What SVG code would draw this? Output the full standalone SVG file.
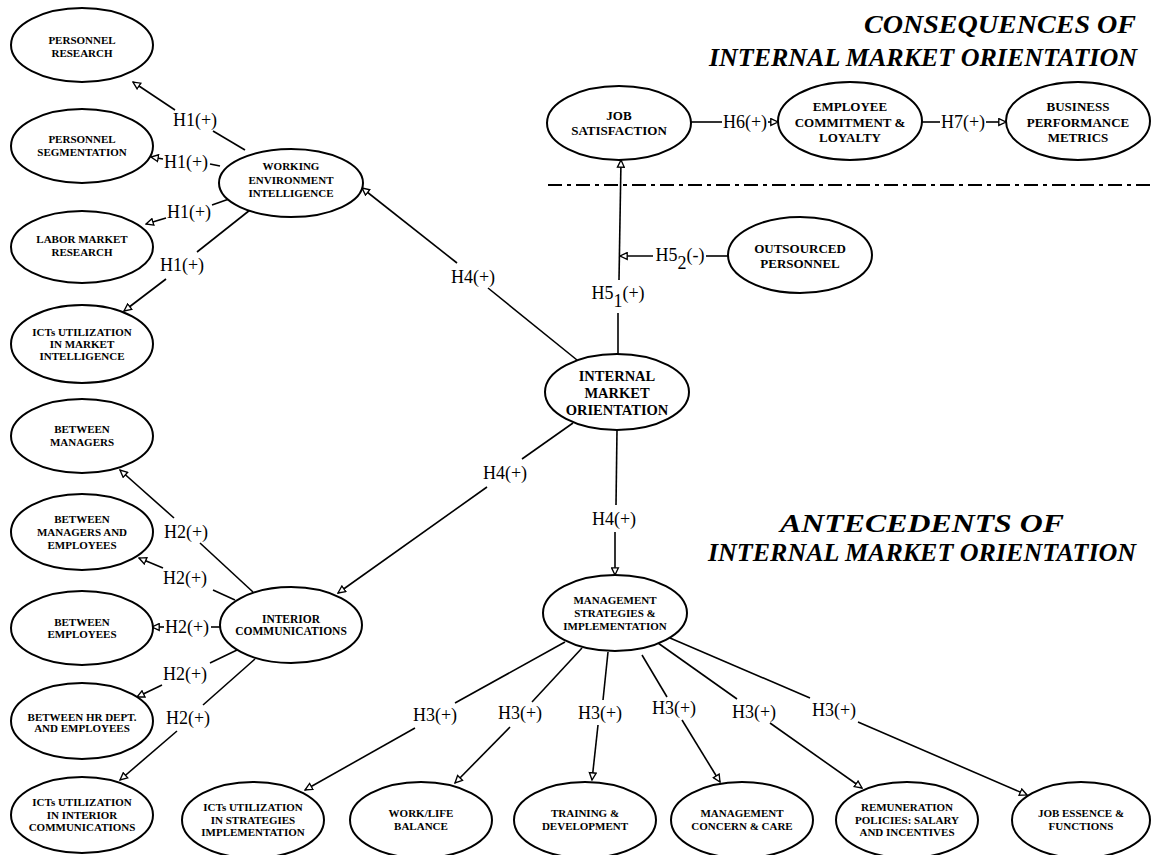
<svg xmlns="http://www.w3.org/2000/svg" width="1151" height="855" viewBox="0 0 1151 855">
  <style>
    .node ellipse { fill: #fff; stroke: #000; stroke-width: 2; }
    .node text { font-family: "Liberation Serif", "Times New Roman", serif; font-weight: bold; font-size: 11px; text-anchor: middle; fill: #000; }
    .node.mid text { font-size: 13px; }
    .node.big text { font-size: 14.5px; }
    .edge line { stroke: #000; stroke-width: 1.6; fill: none; }
    .lbl { font-family: "Liberation Serif", "Times New Roman", serif; font-size: 18px; text-anchor: middle; fill: #000; }
    .title { font-family: "Liberation Serif", "Times New Roman", serif; font-size: 26px; font-weight: bold; font-style: italic; fill: #000; }
    .divider { stroke: #000; stroke-width: 2; stroke-dasharray: 14 5 4 5; }
  </style>
  <defs>
    <marker id="tri" viewBox="0 0 10 10" refX="9" refY="5" markerWidth="9" markerHeight="9" markerUnits="userSpaceOnUse" orient="auto">
      <path d="M1,1.2 L9,5 L1,8.8 Z" fill="#fff" stroke="#000" stroke-width="1.5"/>
    </marker>
  </defs>
  <rect width="1151" height="855" fill="#fff"/>

  <!-- section titles -->
  <text class="title" x="1136" y="33" text-anchor="end" textLength="272" lengthAdjust="spacingAndGlyphs">CONSEQUENCES OF</text>
  <text class="title" x="1137" y="66" text-anchor="end">INTERNAL MARKET ORIENTATION</text>
  <text class="title" x="922" y="532" text-anchor="middle" textLength="284" lengthAdjust="spacingAndGlyphs">ANTECEDENTS OF</text>
  <text class="title" x="922" y="561" text-anchor="middle">INTERNAL MARKET ORIENTATION</text>
  <line class="divider" x1="548" y1="185" x2="1151" y2="185"/>

  <!-- connectors -->
  <g id="connectors" class="edge">
    <!-- H1 -->
    <line x1="245" y1="150" x2="213" y2="131"/>
    <line x1="175" y1="110" x2="133" y2="82" marker-end="url(#tri)"/>
    <line x1="220" y1="166" x2="210" y2="164"/>
    <line x1="163" y1="159" x2="151" y2="157" marker-end="url(#tri)"/>
    <line x1="229" y1="199" x2="212" y2="205"/>
    <line x1="166" y1="218" x2="146" y2="224" marker-end="url(#tri)"/>
    <line x1="250" y1="210" x2="197" y2="252"/>
    <line x1="166" y1="279" x2="124" y2="311" marker-end="url(#tri)"/>
    <!-- H2 -->
    <line x1="253" y1="592" x2="200" y2="543"/>
    <line x1="174" y1="518" x2="120" y2="470" marker-end="url(#tri)"/>
    <line x1="235" y1="600" x2="213" y2="590"/>
    <line x1="163" y1="568" x2="139" y2="558" marker-end="url(#tri)"/>
    <line x1="220" y1="627" x2="211" y2="627"/>
    <line x1="164" y1="627" x2="152" y2="627" marker-end="url(#tri)"/>
    <line x1="237" y1="650" x2="210" y2="663"/>
    <line x1="162" y1="685" x2="137" y2="697" marker-end="url(#tri)"/>
    <line x1="255" y1="659" x2="203" y2="705"/>
    <line x1="177" y1="731" x2="120" y2="780" marker-end="url(#tri)"/>
    <!-- H4 -->
    <line x1="577" y1="360" x2="488" y2="288"/>
    <line x1="457" y1="263" x2="362" y2="188" marker-end="url(#tri)"/>
    <line x1="573" y1="423" x2="522" y2="459"/>
    <line x1="487" y1="487" x2="338" y2="593" marker-end="url(#tri)"/>
    <line x1="617" y1="430" x2="616" y2="505"/>
    <line x1="615" y1="532" x2="615" y2="575" marker-end="url(#tri)"/>
    <!-- H5 -->
    <line x1="618" y1="354" x2="618" y2="313"/>
    <line x1="619" y1="280" x2="621" y2="160" marker-end="url(#tri)"/>
    <line x1="728" y1="256" x2="706" y2="256"/>
    <line x1="653" y1="256" x2="620" y2="256" marker-end="url(#tri)"/>
    <!-- H6 / H7 -->
    <line x1="691" y1="122" x2="722" y2="122"/>
    <line x1="768" y1="122" x2="778" y2="122" marker-end="url(#tri)"/>
    <line x1="922" y1="122" x2="940" y2="122"/>
    <line x1="986" y1="122" x2="1006" y2="122" marker-end="url(#tri)"/>
    <!-- H3 -->
    <line x1="565" y1="642" x2="455" y2="703"/>
    <line x1="415" y1="728" x2="305" y2="790" marker-end="url(#tri)"/>
    <line x1="582" y1="648" x2="532" y2="702"/>
    <line x1="510" y1="727" x2="455" y2="783" marker-end="url(#tri)"/>
    <line x1="608" y1="652" x2="603" y2="700"/>
    <line x1="598" y1="725" x2="592" y2="780" marker-end="url(#tri)"/>
    <line x1="642" y1="655" x2="667" y2="697"/>
    <line x1="682" y1="720" x2="720" y2="782" marker-end="url(#tri)"/>
    <line x1="658" y1="643" x2="737" y2="699"/>
    <line x1="770" y1="723" x2="862" y2="788" marker-end="url(#tri)"/>
    <line x1="670" y1="638" x2="810" y2="698"/>
    <line x1="858" y1="722" x2="1027" y2="795" marker-end="url(#tri)"/>

    <!-- hypothesis labels -->
    <text class="lbl" x="195" y="126">H1(+)</text>
    <text class="lbl" x="186" y="168">H1(+)</text>
    <text class="lbl" x="189" y="218">H1(+)</text>
    <text class="lbl" x="182" y="271">H1(+)</text>
    <text class="lbl" x="186" y="538">H2(+)</text>
    <text class="lbl" x="185" y="584">H2(+)</text>
    <text class="lbl" x="187" y="633">H2(+)</text>
    <text class="lbl" x="185" y="680">H2(+)</text>
    <text class="lbl" x="188" y="724">H2(+)</text>
    <text class="lbl" x="473" y="283">H4(+)</text>
    <text class="lbl" x="505" y="479">H4(+)</text>
    <text class="lbl" x="614" y="525">H4(+)</text>
    <text class="lbl" x="618" y="299">H5<tspan dy="8">1</tspan><tspan dy="-8">(+)</tspan></text>
    <text class="lbl" x="680" y="261">H5<tspan dy="8">2</tspan><tspan dy="-8">(-)</tspan></text>
    <text class="lbl" x="745" y="128">H6(+)</text>
    <text class="lbl" x="963" y="128">H7(+)</text>
    <text class="lbl" x="435" y="721">H3(+)</text>
    <text class="lbl" x="520" y="719">H3(+)</text>
    <text class="lbl" x="600" y="719">H3(+)</text>
    <text class="lbl" x="674" y="714">H3(+)</text>
    <text class="lbl" x="754" y="718">H3(+)</text>
    <text class="lbl" x="834" y="716">H3(+)</text>
  </g>

  <!-- working environment intelligence cluster -->
  <g id="n_personnel_research" class="node">
    <ellipse cx="82" cy="45" rx="71" ry="37"/>
    <text x="82" y="44">PERSONNEL</text>
    <text x="82" y="57">RESEARCH</text>
  </g>
  <g id="n_personnel_segmentation" class="node">
    <ellipse cx="82" cy="146" rx="71" ry="37"/>
    <text x="82" y="143">PERSONNEL</text>
    <text x="82" y="156">SEGMENTATION</text>
  </g>
  <g id="n_labor_market_research" class="node">
    <ellipse cx="82" cy="247" rx="71" ry="36"/>
    <text x="82" y="243">LABOR MARKET</text>
    <text x="82" y="256">RESEARCH</text>
  </g>
  <g id="n_icts_market_intelligence" class="node">
    <ellipse cx="82" cy="344" rx="71" ry="39"/>
    <text x="82" y="336">ICTs UTILIZATION</text>
    <text x="82" y="348">IN MARKET</text>
    <text x="82" y="360">INTELLIGENCE</text>
  </g>
  <g id="n_working_environment" class="node">
    <ellipse cx="291" cy="183" rx="72" ry="34"/>
    <text x="291" y="170">WORKING</text>
    <text x="291" y="184">ENVIRONMENT</text>
    <text x="291" y="197">INTELLIGENCE</text>
  </g>

  <!-- interior communications cluster -->
  <g id="n_between_managers" class="node">
    <ellipse cx="82" cy="436" rx="71" ry="37"/>
    <text x="82" y="433">BETWEEN</text>
    <text x="82" y="446">MANAGERS</text>
  </g>
  <g id="n_between_managers_employees" class="node">
    <ellipse cx="82" cy="532" rx="71" ry="38"/>
    <text x="82" y="523">BETWEEN</text>
    <text x="82" y="536">MANAGERS AND</text>
    <text x="82" y="549">EMPLOYEES</text>
  </g>
  <g id="n_between_employees" class="node">
    <ellipse cx="82" cy="628" rx="71" ry="37"/>
    <text x="82" y="626">BETWEEN</text>
    <text x="82" y="638">EMPLOYEES</text>
  </g>
  <g id="n_between_hr_employees" class="node">
    <ellipse cx="82" cy="721" rx="71" ry="38"/>
    <text x="82" y="721">BETWEEN HR DEPT.</text>
    <text x="82" y="732">AND EMPLOYEES</text>
  </g>
  <g id="n_icts_interior" class="node">
    <ellipse cx="82" cy="815" rx="71" ry="38"/>
    <text x="82" y="806">ICTs UTILIZATION</text>
    <text x="82" y="819">IN INTERIOR</text>
    <text x="82" y="831">COMMUNICATIONS</text>
  </g>
  <g id="n_interior_communications" class="node">
    <ellipse cx="291" cy="625" rx="71" ry="38"/>
    <text x="291" y="623" style="font-size:11.5px">INTERIOR</text>
    <text x="291" y="635" style="font-size:11.5px">COMMUNICATIONS</text>
  </g>

  <!-- core construct -->
  <g id="n_internal_market_orientation" class="node big">
    <ellipse cx="617" cy="392" rx="72" ry="38"/>
    <text x="617" y="381">INTERNAL</text>
    <text x="617" y="398">MARKET</text>
    <text x="617" y="415">ORIENTATION</text>
  </g>

  <!-- consequences -->
  <g id="n_job_satisfaction" class="node mid">
    <ellipse cx="619" cy="123" rx="72" ry="37"/>
    <text x="619" y="119.5">JOB</text>
    <text x="619" y="134.5">SATISFACTION</text>
  </g>
  <g id="n_employee_commitment" class="node mid">
    <ellipse cx="850" cy="121" rx="72" ry="39"/>
    <text x="850" y="110.5">EMPLOYEE</text>
    <text x="850" y="126.5">COMMITMENT &amp;</text>
    <text x="850" y="141.5">LOYALTY</text>
  </g>
  <g id="n_business_performance" class="node mid">
    <ellipse cx="1078" cy="121" rx="72" ry="39"/>
    <text x="1078" y="110.5">BUSINESS</text>
    <text x="1078" y="126.5">PERFORMANCE</text>
    <text x="1078" y="141.5">METRICS</text>
  </g>
  <g id="n_outsourced_personnel" class="node mid">
    <ellipse cx="800" cy="255" rx="72" ry="38"/>
    <text x="800" y="252.5">OUTSOURCED</text>
    <text x="800" y="267.5">PERSONNEL</text>
  </g>

  <!-- management strategies cluster -->
  <g id="n_management_strategies" class="node">
    <ellipse cx="615" cy="613" rx="72" ry="38"/>
    <text x="615" y="604">MANAGEMENT</text>
    <text x="615" y="617">STRATEGIES &amp;</text>
    <text x="615" y="630">IMPLEMENTATION</text>
  </g>
  <g id="n_icts_strategies" class="node">
    <ellipse cx="253" cy="820" rx="71" ry="38"/>
    <text x="253" y="811">ICTs UTILIZATION</text>
    <text x="253" y="824">IN STRATEGIES</text>
    <text x="253" y="836">IMPLEMENTATION</text>
  </g>
  <g id="n_work_life_balance" class="node">
    <ellipse cx="421" cy="820" rx="71" ry="38"/>
    <text x="421" y="817">WORK/LIFE</text>
    <text x="421" y="830">BALANCE</text>
  </g>
  <g id="n_training_development" class="node">
    <ellipse cx="585" cy="820" rx="71" ry="38"/>
    <text x="585" y="817">TRAINING &amp;</text>
    <text x="585" y="830">DEVELOPMENT</text>
  </g>
  <g id="n_management_concern" class="node">
    <ellipse cx="742" cy="820" rx="71" ry="38"/>
    <text x="742" y="817">MANAGEMENT</text>
    <text x="742" y="830">CONCERN &amp; CARE</text>
  </g>
  <g id="n_remuneration_policies" class="node">
    <ellipse cx="907" cy="820" rx="71" ry="38"/>
    <text x="907" y="811">REMUNERATION</text>
    <text x="907" y="824">POLICIES: SALARY</text>
    <text x="907" y="836">AND INCENTIVES</text>
  </g>
  <g id="n_job_essence" class="node">
    <ellipse cx="1081" cy="820" rx="69" ry="38"/>
    <text x="1081" y="817">JOB ESSENCE &amp;</text>
    <text x="1081" y="830">FUNCTIONS</text>
  </g>
</svg>
